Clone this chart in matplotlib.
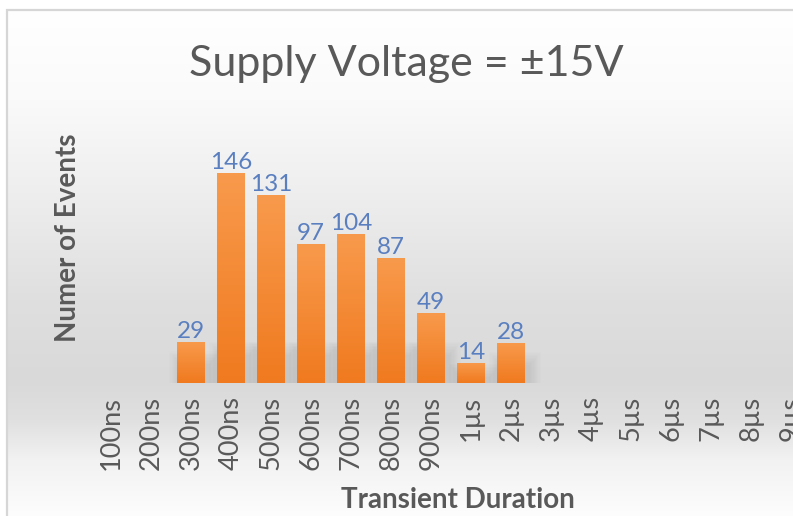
import numpy as np
import matplotlib
matplotlib.use("Agg")
import matplotlib.pyplot as plt
from matplotlib.patches import Rectangle
from matplotlib.colors import LinearSegmentedColormap

# data
categories = ["100ns", "200ns", "300ns", "400ns", "500ns", "600ns", "700ns",
              "800ns", "900ns", "1µs", "2µs", "3µs", "4µs", "5µs", "6µs",
              "7µs", "8µs", "9µs"]
counts = [0, 0, 29, 146, 131, 97, 104, 87, 49, 14, 28, 0, 0, 0, 0, 0, 0, 0]

W, H = 793, 516
text_color = "#595959"
label_blue = "#5a7fc0"
font = "Lato"

fig = plt.figure(figsize=(W / 100, H / 100), dpi=100)
fig.patch.set_facecolor("white")

# background gradient inside the chart border
bg = fig.add_axes([7 / W, 0, 1 - 7 / W, (H - 10) / H], zorder=-10)
stops_px = [10, 100, 200, 300, 380, 420, 460, 516]
stops_gray = [255, 250, 237, 223, 217, 224, 242, 253]
rows = np.arange(10, H)
g = np.interp(rows, stops_px, stops_gray) / 255.0
img = np.repeat(g[:, None], 2, axis=1)
bg.imshow(np.dstack([img, img, img]), aspect="auto", extent=[0, 1, 0, 1])
bg.set_axis_off()
fig.patches.append(Rectangle((7 / W, -0.1), 1.2, (H - 10) / H + 0.1,
                             transform=fig.transFigure, facecolor="none",
                             edgecolor="#d6d6d6", linewidth=1.6, zorder=5))

ax = fig.add_axes([90.8 / W, (H - 383.3) / H, 720 / W, 230 / H])
ax.patch.set_alpha(0)
x = np.arange(len(categories))
bars = ax.bar(x, counts, width=0.7, color="#f5852c", zorder=3)

# soft shadow near the base of the bars
for b, c in zip(bars, counts):
    if c <= 0:
        continue
    x0 = b.get_x()
    w = b.get_width()
    sh = min(c, 40)
    for k in range(10):
        s = k * 0.03
        ax.add_patch(Rectangle((x0 + 0.08 - s, -4 - k * 0.5), w + 0.05 + 2 * s,
                               sh * 0.6 + k * 1.5, facecolor="#777777",
                               edgecolor="none", alpha=0.016, zorder=2))

# vertical gradient on each bar
bar_cmap = LinearSegmentedColormap.from_list("bar", ["#f07a1f", "#f89a4c"])
grad = np.linspace(0, 1, 64)[:, None]
for b in bars:
    if b.get_height() <= 0:
        continue
    im = ax.imshow(grad, cmap=bar_cmap, aspect="auto", origin="lower",
                   extent=[b.get_x(), b.get_x() + b.get_width(), 0, b.get_height()],
                   zorder=4)
    im.set_clip_path(b)

for b, c in zip(bars, counts):
    if c <= 0:
        continue
    ax.annotate(str(c), (b.get_x() + b.get_width() / 2, c), xytext=(0, 0),
                textcoords="offset points", ha="center", va="bottom",
                fontsize=17.5, color=label_blue, family=font, zorder=6)

ax.set_xlim(-0.5, len(categories) - 0.5)
ax.set_ylim(0, 160)
ax.set_xticks(x)
ax.set_xticklabels(categories, rotation=90, fontsize=19.5, color=text_color,
                   family=font)
ax.tick_params(axis="x", length=0, pad=9)
ax.set_yticks([])
for spine in ax.spines.values():
    spine.set_visible(False)

fig.text(406 / W, 1 - 64 / H, "Supply Voltage = ±15V", ha="center",
         va="center", fontsize=31, color=text_color, family=font)
fig.text(68 / W, 1 - 238 / H, "Numer of Events", ha="center", va="center",
         rotation=90, fontsize=20, fontweight="bold", color=text_color,
         family=font)
fig.text(458 / W, 1 - 500 / H, "Transient Duration", ha="center",
         va="center", fontsize=20, fontweight="bold", color=text_color,
         family=font)

fig.savefig("out.png", dpi=100)
